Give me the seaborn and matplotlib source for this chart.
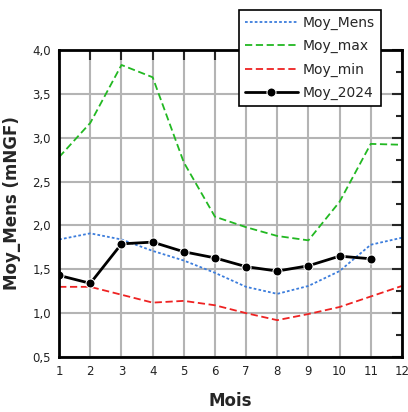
import pandas as pd
import numpy as np
import matplotlib
matplotlib.use("Agg")
import matplotlib.pyplot as plt
import seaborn as sns
from matplotlib.ticker import FuncFormatter, MultipleLocator

# Monthly water levels (mNGF)
mois = [1, 2, 3, 4, 5, 6, 7, 8, 9, 10, 11, 12]
moy_mens = [1.84, 1.91, 1.84, 1.71, 1.60, 1.46, 1.30, 1.22, 1.31, 1.48, 1.78, 1.86]
moy_max = [2.78, 3.17, 3.83, 3.69, 2.72, 2.10, 1.98, 1.88, 1.83, 2.27, 2.93, 2.92]
moy_min = [1.30, 1.30, 1.21, 1.12, 1.14, 1.09, 1.00, 0.92, 0.99, 1.07, 1.19, 1.31]
mois_2024 = [1, 2, 3, 4, 5, 6, 7, 8, 9, 10, 11]
moy_2024 = [1.43, 1.34, 1.79, 1.81, 1.70, 1.63, 1.53, 1.48, 1.54, 1.65, 1.62]

sns.set_style("white")
plt.rcParams['font.family'] = ['DejaVu Sans']

fig = plt.figure(figsize=(4.08, 4.12), dpi=100)
ax = fig.add_axes([0.145, 0.1335, 0.84, 0.745])

sns.lineplot(x=mois, y=moy_mens, ax=ax, color="#3c7ddc", linestyle=(0, (1.5, 1.2)),
             linewidth=1.3, label="Moy_Mens")
sns.lineplot(x=mois, y=moy_max, ax=ax, color="#22b822", linestyle=(0, (4, 2)),
             linewidth=1.3, label="Moy_max")
sns.lineplot(x=mois, y=moy_min, ax=ax, color="#ee2222", linestyle=(0, (4, 2)),
             linewidth=1.3, label="Moy_min")
sns.lineplot(x=mois_2024, y=moy_2024, ax=ax, color="black", linewidth=2,
             marker="o", markersize=6.5, label="Moy_2024")

ax.set_xlim(1, 12)
ax.set_ylim(0.5, 4.0)
ax.xaxis.set_major_locator(MultipleLocator(1))
ax.yaxis.set_major_locator(MultipleLocator(0.5))
ax.yaxis.set_minor_locator(MultipleLocator(0.25))
ax.yaxis.set_major_formatter(FuncFormatter(lambda v, p: f"{v:.1f}".replace(".", ",")))
ax.grid(True, which="major", color="#b4b4b4", linewidth=1.5)
ax.set_axisbelow(True)

ax.tick_params(which="major", direction="in", length=7, width=1.5,
               top=True, right=True, labelsize=8.5, pad=6, labelcolor="#222222")
ax.tick_params(which="minor", direction="in", length=4, width=1.5,
               left=False, right=True)
for s in ax.spines.values():
    s.set_linewidth(2)
    s.set_color("black")

ax.set_xlabel("Mois", fontsize=12, fontweight="bold", labelpad=10)
ax.set_ylabel("Moy_Mens (mNGF)", fontsize=12, fontweight="bold", labelpad=8)

leg = ax.legend(loc="upper left", bbox_to_anchor=(0.585, 0.976),
                bbox_transform=fig.transFigure, fontsize=10, frameon=True,
                fancybox=False, borderpad=0.45, labelspacing=0.65,
                handlelength=3.8, handletextpad=0.35, borderaxespad=0)
leg.get_frame().set_edgecolor("black")
leg.get_frame().set_linewidth(1.2)
leg.get_frame().set_alpha(1)

fig.savefig("out.png", dpi=100)
